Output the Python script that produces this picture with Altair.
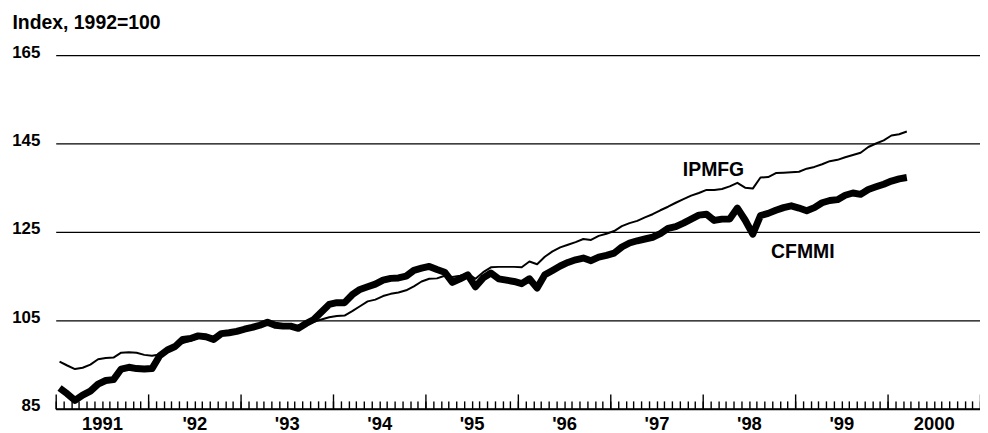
import json
import altair as alt
import pandas as pd

# Monthly values, Jan 1991 .. Mar 2000 (index, 1992=100)
ipmfg = [
    95.7, 94.8, 94.0, 94.3, 95.0, 96.2, 96.5, 96.6, 97.7, 97.8, 97.7, 97.2,
    97.0, 97.3, 98.1, 99.1, 99.9, 100.4, 101.0, 101.1, 100.9, 101.6, 102.0, 102.3,
    102.8, 103.2, 103.6, 104.1, 103.7, 103.5, 103.5, 103.3, 104.0, 104.7, 105.2, 105.7,
    106.0, 106.1, 107.1, 108.2, 109.3, 109.7, 110.5, 111.0, 111.3, 111.8, 112.7, 113.8,
    114.4, 114.5, 115.1, 114.8, 115.1, 115.6, 114.4, 115.9, 117.0, 117.1, 117.1, 117.1,
    117.0, 118.3, 117.7, 119.4, 120.6, 121.5, 122.1, 122.7, 123.4, 123.2, 124.1, 124.6,
    125.2, 126.3, 127.0, 127.5, 128.3, 129.0, 129.9, 130.7, 131.6, 132.4, 133.2, 133.8,
    134.5, 134.5, 134.7, 135.3, 136.1, 135.0, 134.8, 137.3, 137.4, 138.3, 138.4, 138.5,
    138.6, 139.3, 139.7, 140.3, 141.0, 141.3, 141.9, 142.4, 142.9, 144.2, 145.0, 145.7,
    146.8, 147.1, 147.7,
]
cfmmi = [
    89.7, 88.4, 86.9, 88.1, 89.0, 90.6, 91.4, 91.6, 94.0, 94.4, 94.1, 94.0,
    94.1, 97.0, 98.3, 99.1, 100.7, 100.9, 101.5, 101.3, 100.7, 102.0, 102.2, 102.5,
    103.0, 103.4, 103.9, 104.6, 103.9, 103.7, 103.7, 103.2, 104.3, 105.2, 106.9, 108.6,
    109.0, 109.0, 110.8, 112.0, 112.6, 113.2, 114.1, 114.5, 114.6, 115.0, 116.3, 116.8,
    117.2, 116.5, 115.9, 113.6, 114.4, 115.3, 112.6, 114.6, 115.7, 114.4, 114.1, 113.8,
    113.3, 114.4, 112.3, 115.3, 116.3, 117.3, 118.1, 118.7, 119.1, 118.5, 119.3, 119.7,
    120.2, 121.6, 122.5, 123.0, 123.4, 123.8, 124.6, 125.8, 126.2, 127.0, 127.9, 128.8,
    129.0, 127.6, 127.9, 127.9, 130.4, 127.7, 124.5, 128.7, 129.2, 129.9, 130.5, 130.9,
    130.4, 129.8, 130.5, 131.6, 132.1, 132.3, 133.3, 133.8, 133.5, 134.6, 135.2, 135.8,
    136.5, 137.0, 137.3,
]
year_labels = ["1991", "'92", "'93", "'94", "'95", "'96", "'97", "'98", "'99", "2000"]
y_ticks = [85, 105, 125, 145, 165]
series_names = ["IPMFG", "CFMMI"]
series_label_month = [85.4, 97.0]
series_label_value = [137.6, 119.2]
y_title = "Index, 1992=100"

FONT = "Liberation Sans"
n_months = 12 * len(year_labels)

df = pd.DataFrame({
    "t": [i + 0.5 for i in range(len(cfmmi))],
    "ipmfg": ipmfg,
    "cfmmi": cfmmi,
})
lab_df = pd.DataFrame({"name": series_names, "m": series_label_month, "v": series_label_value})

xscale = alt.Scale(domain=[0, n_months], nice=False, zero=False)
yscale = alt.Scale(domain=[y_ticks[0], y_ticks[-1]], nice=False, zero=False)

yaxis = alt.Axis(
    values=y_ticks, grid=True, gridColor="black", gridWidth=1.3, gridOpacity=1,
    ticks=False, tickSize=0, domain=False,
    labelFont=FONT, labelFontSize=17, labelFontWeight="bold", labelColor="black",
    labelPadding=16, labelOffset=-3,
    title=y_title, titleAngle=0, titleAlign="left", titleBaseline="alphabetic",
    titleX=-44, titleY=-27, titleFont=FONT, titleFontSize=19.5, titleFontWeight="bold",
    titleColor="black",
)

label_expr = json.dumps(year_labels) + "[floor(datum.value / 12)]"
ax_labels = alt.Axis(
    orient="bottom",
    values=[12 * k + 6 for k in range(len(year_labels))], labelExpr=label_expr,
    ticks=False, tickSize=0, domain=True, domainColor="black", domainWidth=2,
    grid=False, labelFont=FONT, labelFontSize=18.5, labelFontWeight="bold",
    labelColor="black", labelPadding=21, labelBaseline="alphabetic", labelAngle=0,
    labelFlush=False, labelOverlap=False, title=None,
)
ax_minor = alt.Axis(
    orient="bottom",
    values=list(range(0, n_months + 1)), ticks=True, tickSize=8, tickWidth=1.4,
    tickColor="black", labels=False, domain=False, grid=False, offset=-8, title=None,
)
ax_major = alt.Axis(
    orient="bottom",
    values=list(range(0, n_months + 1, 12)), ticks=True, tickSize=15, tickWidth=1.4,
    tickColor="black", labels=False, domain=False, grid=False, offset=-15, title=None,
)

thin = alt.Chart(df).mark_line(color="black", strokeWidth=2, strokeJoin="round").encode(
    x=alt.X("t:Q", scale=xscale, axis=ax_labels),
    y=alt.Y("ipmfg:Q", scale=yscale, axis=yaxis),
)
thick = alt.Chart(df).mark_line(color="black", strokeWidth=7, strokeJoin="round").encode(
    x=alt.X("t:Q", scale=xscale, axis=ax_minor),
    y=alt.Y("cfmmi:Q", scale=yscale, axis=yaxis),
)
labels = alt.Chart(lab_df).mark_text(
    font=FONT, fontSize=19.5, fontWeight="bold", color="black",
    align="center", baseline="alphabetic",
).encode(
    x=alt.X("m:Q", scale=xscale, axis=ax_major),
    y=alt.Y("v:Q", scale=yscale, axis=yaxis),
    text="name:N",
)

chart = (
    alt.layer(thin, thick, labels)
    .resolve_axis(x="independent")
    .properties(
        width=930, height=356,
        autosize=alt.AutoSizeParams(type="none"),
        padding={"left": 48, "top": 46, "right": 0, "bottom": 24},
        background="white",
    )
    .configure_view(stroke=None)
)

chart.save("out.html", embed_options={"renderer": "svg", "actions": False})
